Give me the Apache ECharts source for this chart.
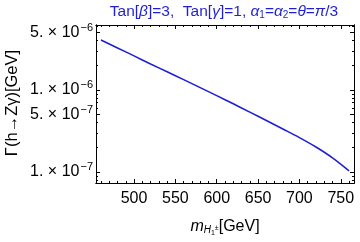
<!DOCTYPE html>
<html>
<head>
<meta charset="utf-8">
<script src="https://cdn.jsdelivr.net/npm/echarts@6/dist/echarts.min.js"></script>
<style>html,body{margin:0;padding:0;background:#fff}#c{width:360px;height:242px}</style>
</head>
<body>
<div id="c"></div>
<script>
// Data
const mass = [460, 480, 500, 520, 540, 560, 580, 600, 620, 640, 660, 680, 700, 720, 740, 760];
const decayWidth = [4.07e-6, 3.26e-6, 2.61e-6, 2.08e-6, 1.67e-6, 1.34e-6, 1.07e-6, 8.55e-7,
                    6.79e-7, 5.38e-7, 4.26e-7, 3.35e-7, 2.63e-7, 2.02e-7, 1.49e-7, 1.035e-7];
const xTickValues = [500, 550, 600, 650, 700, 750];
const xMinorTickValues = [460,470,480,490,510,520,530,540,560,570,580,590,610,620,630,640,660,670,680,690,710,720,730,740,760];
const yTickValues = [1e-7, 5e-7, 1e-6, 5e-6];
const yMinorTickValues = [8e-8, 9e-8, 2e-7, 3e-7, 4e-7, 6e-7, 7e-7, 8e-7, 9e-7, 2e-6, 3e-6, 4e-6, 6e-6];

const X_MIN = 454, X_MAX = 766;
const Y_MIN = 7.35e-8, Y_MAX = 6.21e-6;
const FONT = 'Liberation Sans, Arial, sans-serif';
const BLUE = '#1f1fd6';

function yLabel(v) {
  const e = Math.floor(Math.log10(v) + 1e-9);
  const m = Math.round(v / Math.pow(10, e));
  return '{m|' + m + '. \u00d7 10}{e|\u2212' + Math.abs(e) + '}';
}

const lineStyle = { color: '#000', width: 1 };
function xAx(pos, vals, len, showLabel) {
  return {
    type: 'value', position: pos, min: X_MIN, max: X_MAX,
    axisLine: { show: true, onZero: false, lineStyle },
    splitLine: { show: false },
    axisTick: { show: true, inside: true, length: len, lineStyle, customValues: vals },
    axisLabel: showLabel ? {
      show: true, customValues: vals, color: '#000', fontFamily: FONT, fontSize: 16, margin: 8
    } : { show: false }
  };
}
function yAx(pos, vals, len, showLabel) {
  return {
    type: 'log', logBase: 10, position: pos, min: Y_MIN, max: Y_MAX,
    axisLine: { show: true, onZero: false, lineStyle },
    splitLine: { show: false },
    axisTick: { show: true, inside: true, length: len, lineStyle, customValues: vals },
    axisLabel: showLabel ? {
      show: true, customValues: vals, formatter: yLabel, margin: 3,
      rich: {
        m: { color: '#000', fontFamily: FONT, fontSize: 16 },
        e: { color: '#000', fontFamily: FONT, fontSize: 11, padding: [0, 0, 10, 1] }
      }
    } : { show: false }
  };
}

const chart = echarts.init(document.getElementById('c'), null, { renderer: 'canvas' });
chart.setOption({
  animation: false,
  backgroundColor: '#fff',
  grid: { left: 96, right: 6, top: 25, bottom: 59, containLabel: false },
  xAxis: [
    xAx('bottom', xTickValues, 4, true),
    xAx('bottom', xMinorTickValues, 2, false),
    xAx('top', xTickValues, 4, false),
    xAx('top', xMinorTickValues, 2, false)
  ],
  yAxis: [
    yAx('left', yTickValues, 4, true),
    yAx('left', yMinorTickValues, 2, false),
    yAx('right', yTickValues, 4, false),
    yAx('right', yMinorTickValues, 2, false)
  ],
  series: [{
    type: 'line', xAxisIndex: 0, yAxisIndex: 0,
    data: mass.map((m, i) => [m, decayWidth[i]]),
    showSymbol: false, smooth: 0.3,
    lineStyle: { color: BLUE, width: 1.6 }
  }],
  graphic: [
    {
      type: 'text', x: 224, y: 12,
      style: {
        text: '{n|Tan[}{i|β}{n|]=3,  Tan[}{i|γ}{n|]=1, }{i|α}{s|1}{n|=}{i|α}{s|2}{n|=}{i|θ}{n|=}{i|π}{n|/3}',
        align: 'center', verticalAlign: 'middle',
        rich: {
          n: { fill: BLUE, fontFamily: FONT, fontSize: 15.5 },
          i: { fill: BLUE, fontFamily: FONT, fontSize: 15.5, fontStyle: 'italic' },
          s: { fill: BLUE, fontFamily: FONT, fontSize: 10, padding: [7, 0, 0, 0] }
        }
      }
    },
    {
      type: 'text', x: 225, y: 227,
      style: {
        text: '{m|m}{h|H}{o|1}{p|±}{n|[GeV]}',
        align: 'center', verticalAlign: 'middle',
        rich: {
          m: { fill: '#000', fontFamily: FONT, fontSize: 16, fontStyle: 'italic' },
          h: { fill: '#000', fontFamily: FONT, fontSize: 10, fontStyle: 'italic', padding: [7, 0, 0, 0] },
          o: { fill: '#000', fontFamily: FONT, fontSize: 7, padding: [12, 0, 0, 0] },
          p: { fill: '#000', fontFamily: FONT, fontSize: 7, padding: [3, 0, 0, 0] },
          n: { fill: '#000', fontFamily: FONT, fontSize: 16 }
        }
      }
    },
    {
      type: 'text', x: 12, y: 103, rotation: Math.PI / 2,
      style: {
        text: 'Γ(h→Zγ)[GeV]', fill: '#000', fontFamily: FONT, fontSize: 16.5,
        align: 'center', verticalAlign: 'middle'
      }
    }
  ]
});
</script>
</body>
</html>
